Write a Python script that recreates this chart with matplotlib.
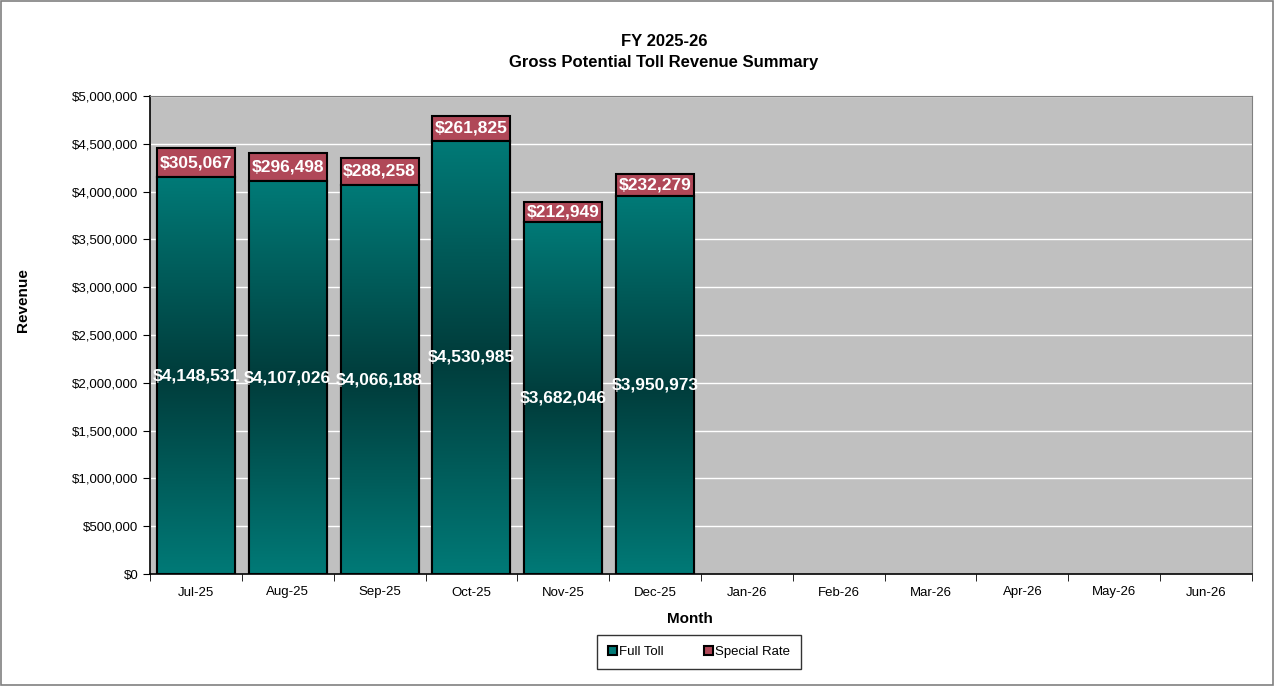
import numpy as np
import matplotlib
matplotlib.use("Agg")
import matplotlib.pyplot as plt
from matplotlib.colors import LinearSegmentedColormap
from matplotlib.patches import Rectangle
from matplotlib.ticker import FuncFormatter

plt.rcParams['font.family'] = ['Liberation Sans', 'DejaVu Sans']

months = ['Jul-25', 'Aug-25', 'Sep-25', 'Oct-25', 'Nov-25', 'Dec-25',
          'Jan-26', 'Feb-26', 'Mar-26', 'Apr-26', 'May-26', 'Jun-26']
full_toll = [4148531, 4107026, 4066188, 4530985, 3682046, 3950973]
special_rate = [305067, 296498, 288258, 261825, 212949, 232279]

teal = '#007A77'
rose = '#B04858'
grad = LinearSegmentedColormap.from_list('tealgrad', [teal, '#003C3B', teal])


def money(v, pos=None):
    return '${:,.0f}'.format(v)


def main():
    fig = plt.figure(figsize=(12.74, 6.86), dpi=100)
    ax = fig.add_axes([150 / 1274, 1 - 574 / 686, 1102 / 1274, 478 / 686])
    ax.set_facecolor('#C0C0C0')

    x = np.arange(len(months))
    n = len(full_toll)
    w = 0.85
    bars = ax.bar(x[:n], full_toll, w, color=teal, edgecolor='black',
                  linewidth=1.5, label='Full Toll', zorder=3)
    ax.bar(x[:n], special_rate, w, bottom=full_toll, color=rose,
           edgecolor='black', linewidth=1.5, label='Special Rate', zorder=3)

    # vertical gradient inside each full toll bar
    g = np.linspace(0, 1, 256).reshape(-1, 1)
    for b in bars:
        x0, y0 = b.get_x(), b.get_y()
        im = ax.imshow(g, cmap=grad, aspect='auto', origin='lower',
                       extent=(x0, x0 + b.get_width(), y0, y0 + b.get_height()),
                       zorder=3.5)
        im.set_clip_path(b)
    for b in bars:
        ax.add_patch(Rectangle((b.get_x(), b.get_y()), b.get_width(), b.get_height(),
                               fill=False, edgecolor='black', linewidth=1.5, zorder=4))

    for i in range(n):
        ax.text(x[i], full_toll[i] / 2, money(full_toll[i]), ha='center', va='center',
                color='white', fontsize=12.5, fontweight='bold', zorder=5)
        ax.text(x[i], full_toll[i] + special_rate[i] / 2, money(special_rate[i]),
                ha='center', va='center', color='white', fontsize=12.5,
                fontweight='bold', zorder=5)

    ax.set_xlim(-0.5, len(months) - 0.5)
    ax.set_ylim(0, 5000000)
    ax.set_yticks(np.arange(0, 5000001, 500000))
    ax.yaxis.set_major_formatter(FuncFormatter(money))
    ax.set_xticks(x)
    ax.set_xticklabels(months)
    ax.set_xticks(np.arange(-0.5, len(months), 1), minor=True)
    ax.tick_params(axis='x', which='major', length=0, pad=9, labelsize=9.5)
    ax.tick_params(axis='x', which='minor', length=5, direction='out')
    ax.tick_params(axis='y', length=5, direction='out', labelsize=9.5)
    ax.grid(axis='y', color='white', linewidth=1, zorder=1)
    ax.set_axisbelow(True)
    for s in ['top', 'right']:
        ax.spines[s].set_color('#808080')
    for s in ['left', 'bottom']:
        ax.spines[s].set_color('black')
        ax.spines[s].set_linewidth(1.2)

    ax.set_xlabel('Month', fontsize=11, fontweight='bold')
    ax.xaxis.set_label_coords((690 - 150) / 1102, -(612 - 574) / 478)
    ax.set_ylabel('Revenue', fontsize=11, fontweight='bold')
    ax.yaxis.set_label_coords((30 - 150) / 1102, (574 - 300) / 478)
    fig.text(664 / 1274, 1 - 42 / 686, 'FY 2025-26', ha='center',
             va='center', fontsize=12, fontweight='bold')
    fig.text(664 / 1274, 1 - 63 / 686, 'Gross Potential Toll Revenue Summary',
             ha='center', va='center', fontsize=12, fontweight='bold')

    leg = ax.legend(loc='center', bbox_to_anchor=(699 / 1274, 1 - 652 / 686),
                    bbox_transform=fig.transFigure, ncol=2, frameon=True,
                    fancybox=False, edgecolor='black', fontsize=9.5,
                    handlelength=0.7, handleheight=0.7, handletextpad=0.2,
                    columnspacing=3.0, borderpad=0.8, borderaxespad=0)
    leg.get_frame().set_linewidth(1)

    fig.patches.append(Rectangle((0.001, 0.001), 0.998, 0.997, transform=fig.transFigure,
                                 fill=False, edgecolor='#808080', linewidth=1.2))
    fig.savefig('out.png', dpi=100)


if __name__ == '__main__':
    main()
